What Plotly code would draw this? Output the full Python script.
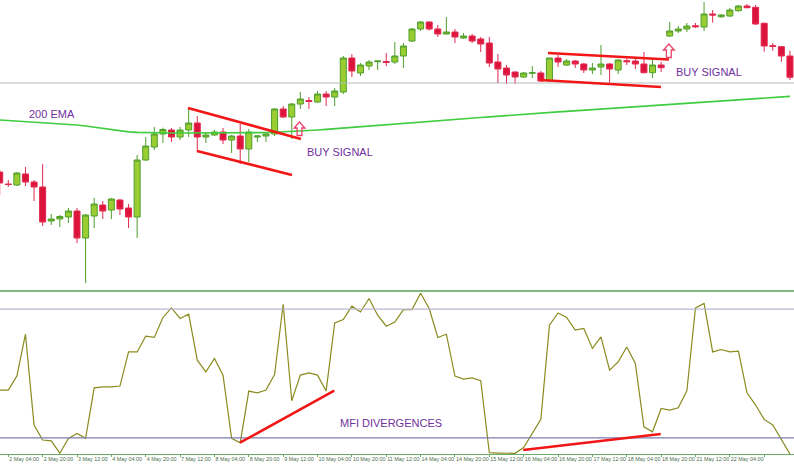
import plotly.graph_objects as go

# ---------------- data (H4 bars) ----------------
bars = list(range(93))

open_ = [128, 116, 115, 126, 118, 113, 79, 81, 83, 89,
         62, 84, 95, 90, 100, 92, 83, 140, 153, 166,
         170, 163, 170, 177, 163, 165, 168, 160, 164, 151,
         163, 164, 166, 191, 183, 196, 199.5, 198, 206, 203,
         208, 242, 227, 234, 238.3, 238.5, 238, 244, 259, 271,
         278, 271, 266, 268, 262, 264, 261, 257, 238, 232,
         228, 223, 226.7, 227, 219, 242, 235, 239, 236, 230,
         233, 236, 230, 239.3, 239, 236, 227.3, 235, 264, 269,
         271, 274.3, 273, 286, 283.3, 284, 289.3, 294, 292.7, 276.7,
         254.3, 253.3, 244]
high = [130, 120, 128, 133, 120, 136, 86, 85, 92, 92,
        86, 102, 99, 102, 101, 96, 145, 163, 173, 172.3,
        172, 173, 191, 184, 168, 170, 172, 165, 176, 171,
        165, 168, 192, 194, 197, 208, 203, 209, 209, 212,
        244, 246, 237, 240, 239, 247, 258, 257, 272, 279,
        278.5, 275, 283, 271, 267, 266, 263, 263, 246, 235,
        228.5, 228, 234, 229, 242, 245, 241, 240, 237, 237,
        255, 237, 241, 241.7, 241, 248, 242, 238, 278, 274,
        277, 277, 298, 290, 286, 292, 295, 296, 295, 277.3,
        257, 254, 249.3]
low = [105, 113, 114, 114, 99, 74, 75, 73, 77, 57,
       17, 72, 81, 81, 85, 72, 62, 139, 150, 157,
       158, 160, 163, 148, 157, 164, 156, 147, 136, 138,
       158, 158, 164, 182, 161, 191, 191, 197, 194, 194,
       206, 223, 224, 230, 230, 234, 236, 232, 258, 269,
       269.5, 263, 265.5, 257, 261, 257, 248, 233, 217, 216,
       216, 222, 222, 218.3, 218.3, 233, 234, 232, 227, 226,
       225, 217, 226, 235, 231, 226.7, 222, 228, 263, 267,
       268, 272, 269, 277.3, 282, 283, 288.3, 291.7, 275, 248.3,
       249.3, 238.3, 220]
close = [117, 115.5, 127, 118, 113, 78, 81, 83.5, 89, 62,
         85, 96, 89, 101, 91, 83, 140, 154, 166, 170.5,
         163, 170, 177, 163, 165, 168, 160, 164, 151, 168,
         164, 166, 191, 183, 196, 201, 198.5, 206, 203, 209,
         242, 229, 235, 238, 239, 237.5, 244, 254, 271, 278,
         271, 266, 268, 263, 264, 259, 256, 237, 231, 225,
         223, 227, 227.3, 219, 242, 238, 239, 236, 230, 232,
         236, 231, 240, 238.3, 236, 227.3, 235, 232.3, 269, 271,
         274, 273.3, 286, 285, 285, 290, 294, 292.3, 276, 254,
         253.7, 244, 222.7]

ema200 = [180.0, 179.5, 179.0, 178.5, 178.0, 177.3, 176.8, 176.3, 175.8, 175.0,
          174.0, 172.8, 171.5, 170.3, 169.1, 168.1, 167.6, 167.3, 167.2, 167.1,
          167.0, 167.0, 167.0, 166.9, 166.9, 166.9, 166.9, 166.9, 167.0, 167.0,
          167.1, 167.4, 167.8, 168.1, 168.4, 168.7, 169.3, 170.0, 170.6, 171.3,
          172.0, 172.6, 173.3, 173.9, 174.6, 175.2, 175.9, 176.6, 177.2, 177.9,
          178.5, 179.2, 179.8, 180.5, 181.1, 181.8, 182.5, 183.1, 183.8, 184.4,
          185.1, 185.7, 186.3, 186.9, 187.5, 188.1, 188.6, 189.2, 189.8, 190.4,
          190.9, 191.5, 192.1, 192.7, 193.3, 193.8, 194.4, 195.0, 195.6, 196.1,
          196.7, 197.3, 197.9, 198.4, 199.0, 199.6, 200.2, 200.7, 201.3, 201.9,
          202.5, 203.0, 203.6]

mfi = [39.7, 39.7, 48.4, 74.4, 18.0, 8.7, 8.2, 0.5, 9.7, 12.8,
       9.7, 41.1, 41.7, 41.7, 42.2, 63.4, 63.4, 73.2, 72.4, 84.8,
       90.7, 84.2, 86.8, 58.3, 51.0, 59.3, 49.0, 9.7, 7.0, 39.1,
       38.0, 39.7, 49.4, 93.0, 33.1, 49.0, 50.4, 49.0, 39.1, 81.4,
       83.5, 91.8, 88.2, 96.6, 86.2, 79.4, 82.0, 89.7, 89.7, 99.8,
       90.4, 72.4, 74.4, 48.4, 46.5, 47.3, 45.5, 0.8, 0.6, 0.4,
       0.4, 4.0, 12.4, 21.5, 80.0, 87.6, 84.8, 76.9, 78.0, 65.6,
       72.7, 52.1, 57.2, 66.5, 56.2, 16.9, 13.8, 28.3, 27.3, 28.7,
       39.3, 90.7, 93.5, 63.4, 64.9, 63.4, 63.9, 38.0, 30.4, 21.5,
       18.0, 9.1, 0.0]

tick_bars = list(range(1, 90, 4))
tick_labels = ["2 May 04:00", "2 May 20:00", "3 May 12:00", "4 May 04:00",
               "4 May 20:00", "7 May 12:00", "8 May 04:00", "8 May 20:00",
               "9 May 12:00", "10 May 04:00", "10 May 20:00", "11 May 12:00",
               "14 May 04:00", "14 May 20:00", "15 May 12:00", "16 May 04:00",
               "16 May 20:00", "17 May 12:00", "18 May 04:00", "18 May 20:00",
               "21 May 12:00", "22 May 04:00", "22 May 20:00"]

price_level = 217
mfi_levels = [90, 10]

# hand-drawn analysis objects (bar index / price units)
trend_lines = [(21.92, 192, 35.07, 161), (22.97, 149, 34.03, 125),
               (63.83, 247, 77.92, 240.5), (62.9, 220, 76.98, 213)]
mfi_lines = [(27.97, 7.0, 38.95, 39.3), (60.95, 2.5, 76.95, 12.4)]
arrows = [(34.9, 178), (77.9, 256)]
price_texts = [("200 EMA", 3.18, 186), ("BUY SIGNAL", 35.54, 148),
               ("BUY SIGNAL", 78.5, 228)]
mfi_texts = [("MFI DIVERGENCES", 39.38, 19.3)]

# ---------------- figure ----------------
W, H, MB = 794, 466, 12
PH = H - MB
PX_PER_BAR = 8.59

fig = go.Figure()
fig.add_trace(go.Candlestick(
    x=bars, open=open_, high=high, low=low, close=close,
    xaxis="x", yaxis="y",
    increasing=dict(line=dict(color="#4f9f2c", width=1), fillcolor="#9acd32"),
    decreasing=dict(line=dict(color="#e2284e", width=1), fillcolor="#dc143c"),
    whiskerwidth=0, showlegend=False, hoverinfo="skip"))
fig.add_trace(go.Scatter(x=bars, y=ema200, mode="lines", xaxis="x", yaxis="y",
                         line=dict(color="#3fcc3f", width=1.6), showlegend=False,
                         hoverinfo="skip"))
fig.add_trace(go.Scatter(x=bars, y=mfi, mode="lines", xaxis="x", yaxis="y2",
                         line=dict(color="#8a8a1e", width=1.2), showlegend=False,
                         hoverinfo="skip"))

shapes = []
shapes.append(dict(type="line", xref="paper", x0=0, x1=1, yref="y",
                   y0=price_level, y1=price_level, line=dict(color="#b9b9b9", width=1)))
shapes.append(dict(type="line", xref="paper", x0=0, x1=1, yref="y2",
                   y0=mfi_levels[0], y1=mfi_levels[0], line=dict(color="#b8b8d2", width=1.2)))
shapes.append(dict(type="line", xref="paper", x0=0, x1=1, yref="y2",
                   y0=mfi_levels[1], y1=mfi_levels[1], line=dict(color="#7c7cb2", width=1.2)))
sep = (PH - 291) / PH
shapes.append(dict(type="line", xref="paper", x0=0, x1=1, yref="paper",
                   y0=sep, y1=sep, line=dict(color="#80ba80", width=2)))
for x0, y0, x1, y1 in trend_lines:
    shapes.append(dict(type="line", xref="x", yref="y", x0=x0, y0=y0, x1=x1, y1=y1,
                       line=dict(color="#f21616", width=2.6)))
for x0, y0, x1, y1 in mfi_lines:
    shapes.append(dict(type="line", xref="x", yref="y2", x0=x0, y0=y0, x1=x1, y1=y1,
                       line=dict(color="#f21616", width=2.6)))
for cx, top in arrows:
    hw, sw = 5.4 / PX_PER_BAR, 2.4 / PX_PER_BAR
    hh, th = 6.0, 13.5
    pts = [(cx, top), (cx + hw, top - hh), (cx + sw, top - hh), (cx + sw, top - th),
           (cx - sw, top - th), (cx - sw, top - hh), (cx - hw, top - hh)]
    path = "M " + " L ".join(f"{px:.4f},{py:.2f}" for px, py in pts) + " Z"
    shapes.append(dict(type="path", xref="x", yref="y", path=path,
                       line=dict(color="#e8436b", width=1.3), fillcolor="rgba(0,0,0,0)"))

annotations = []
for txt, ax, ay in price_texts:
    annotations.append(dict(text=txt, x=ax, y=ay, xref="x", yref="y", showarrow=False,
                            xanchor="left", yanchor="middle",
                            font=dict(family="Arial, Liberation Sans", size=11, color="#7030a0")))
for txt, ax, ay in mfi_texts:
    annotations.append(dict(text=txt, x=ax, y=ay, xref="x", yref="y2", showarrow=False,
                            xanchor="left", yanchor="middle",
                            font=dict(family="Arial, Liberation Sans", size=11, color="#7030a0")))

fig.update_layout(
    width=W, height=H, autosize=False,
    margin=dict(l=0, r=0, t=0, b=MB, pad=0),
    paper_bgcolor="white", plot_bgcolor="white",
    boxgap=0.0, boxgroupgap=0.3,
    showlegend=False,
    shapes=shapes, annotations=annotations,
    xaxis=dict(range=[0.035, 92.47], domain=[0, 1], anchor="y2",
               showgrid=False, zeroline=False, showline=True,
               linecolor="#6aaa6a", linewidth=1,
               ticks="outside", ticklen=2, tickwidth=1, tickcolor="#6aaa6a",
               tickvals=tick_bars, ticktext=tick_labels, tickangle=0,
               ticklabelposition="outside right", automargin=False,
               tickfont=dict(family="Arial, Liberation Sans", size=5.4, color="#4d6e4d"),
               rangeslider=dict(visible=False), fixedrange=True),
    yaxis=dict(domain=[(PH - 289) / PH, 1], range=[11, 300], visible=False,
               showgrid=False, zeroline=False, fixedrange=True),
    yaxis2=dict(domain=[0, (PH - 293) / PH], range=[0, 100], visible=False,
                showgrid=False, zeroline=False, fixedrange=True),
)

fig.write_html("out.html", config={"displayModeBar": False})
